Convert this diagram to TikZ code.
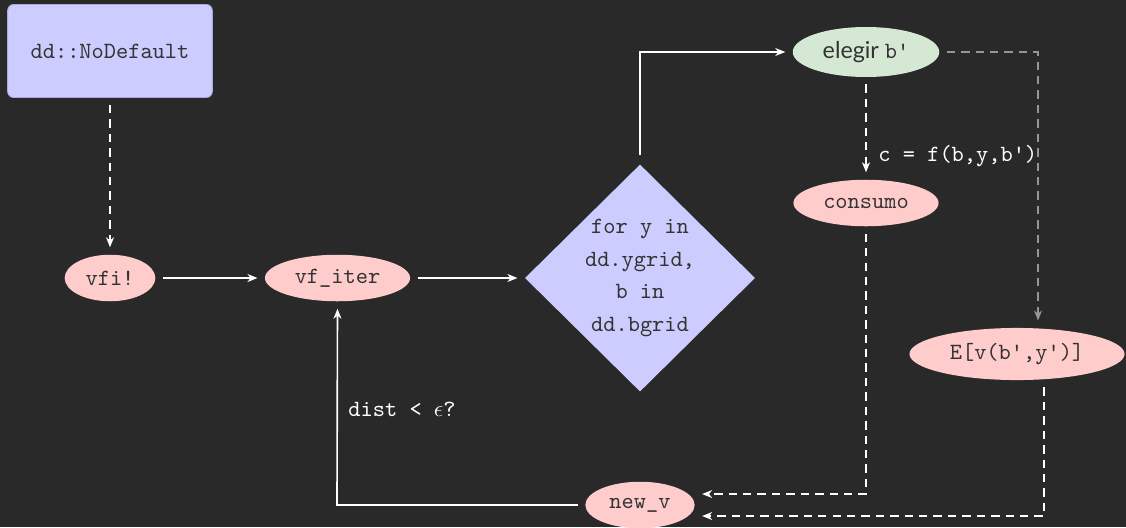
\documentclass[tikz,border=0pt]{standalone}
\usepackage{fontspec}
\setmainfont{Lato}
\usetikzlibrary{shapes.geometric,arrows.meta}
\definecolor{bg}{RGB}{40,41,40}
\definecolor{lav}{RGB}{204,204,255}
\definecolor{lavd}{RGB}{170,170,221}
\definecolor{pinkf}{RGB}{255,204,204}
\definecolor{greenf}{RGB}{213,232,212}
\definecolor{txt}{RGB}{51,51,51}
\definecolor{edgegray}{RGB}{150,150,150}
\tikzset{
  ell/.style={ellipse, inner sep=0pt, text=txt, font=\ttfamily},
  pinknode/.style={ell, fill=pinkf},
  conn/.style={line width=0.7pt, draw=white, -{Stealth[length=4.3pt,width=3.4pt,inset=1.3pt]}},
  dconn/.style={conn, dash pattern=on 3.6pt off 2.6pt},
  gconn/.style={dconn, draw=edgegray, -{Stealth[length=4.3pt,width=3.4pt,inset=1.3pt,fill=edgegray]}},
  lbl/.style={text=white, font=\ttfamily, inner sep=0pt, anchor=west}
}
\begin{document}
\begin{tikzpicture}[x=0.43pt,y=-0.43pt]
\path[use as bounding box, fill=bg] (0,0) rectangle (1126,527);
\node[rectangle, rounded corners=2.6pt, fill=lav, draw=lavd, line width=0.4pt, minimum width=88pt, minimum height=40pt, text=txt, font=\ttfamily] (nd) at (110,51) {dd::NoDefault};
\node[pinknode, minimum width=39pt, minimum height=20pt] (vfi) at (110,278) {vfi!};
\node[pinknode, minimum width=62.4pt, minimum height=20pt] (vfit) at (337.5,278) {vf\_iter};
\node[diamond, fill=lav, inner sep=0pt, minimum width=99pt, minimum height=97pt, text=txt, font=\ttfamily, align=center] (loop) at (640,278) {for y in\\[2pt]dd.ygrid,\\[2pt]b in\\[2pt]dd.bgrid};
\node[ell, fill=greenf, minimum width=63pt, minimum height=21.5pt] (eleg) at (866,52) {\rmfamily elegir \ttfamily b'};
\node[pinknode, minimum width=62.4pt, minimum height=20pt] (cons) at (866,203) {consumo};
\node[pinknode, minimum width=92.5pt, minimum height=22.4pt] (ev) at (1017,354) {E[v(b',y')]};
\node[pinknode, minimum width=47pt, minimum height=20pt] (nv) at (640,505) {new\_v};

\coordinate (c1) at (640,52);
\coordinate (c2) at (1038,52);
\coordinate (c3) at (866,494);
\coordinate (c4) at (1044,516);
\coordinate (c5) at (337,505);

\draw[dconn, shorten <=3pt, shorten >=3pt] (nd) -- (vfi);
\draw[conn, shorten <=3pt, shorten >=3pt] (vfi) -- (vfit);
\draw[conn, shorten <=3pt, shorten >=3pt] (vfit) -- (loop);
\draw[conn, shorten <=4pt, shorten >=3pt] (loop.north) -- (c1) -- (eleg.west);
\draw[dconn, shorten <=3pt, shorten >=3pt] (eleg) -- node[lbl, pos=0.77, right=5pt] (lc) {c = f(b,y,b')} (cons);
\draw[gconn, shorten <=3pt, shorten >=3pt] (eleg.east) -- (c2) -- (c2 |- ev.north);
\draw[dconn, shorten <=3pt, shorten >=3pt] (cons.south) -- (c3) -- (c3 -| nv.east) ;
\draw[dconn, shorten <=3pt, shorten >=3pt] (ev.south -| c4) -- (c4) -- (c4 -| nv.east);
\draw[conn, shorten <=3pt, shorten >=3pt] (nv.west) -- (c5) -- (vfit.south);
\node[lbl] (dl) at (348,409) {dist < $\epsilon$?};
\end{tikzpicture}
\end{document}
